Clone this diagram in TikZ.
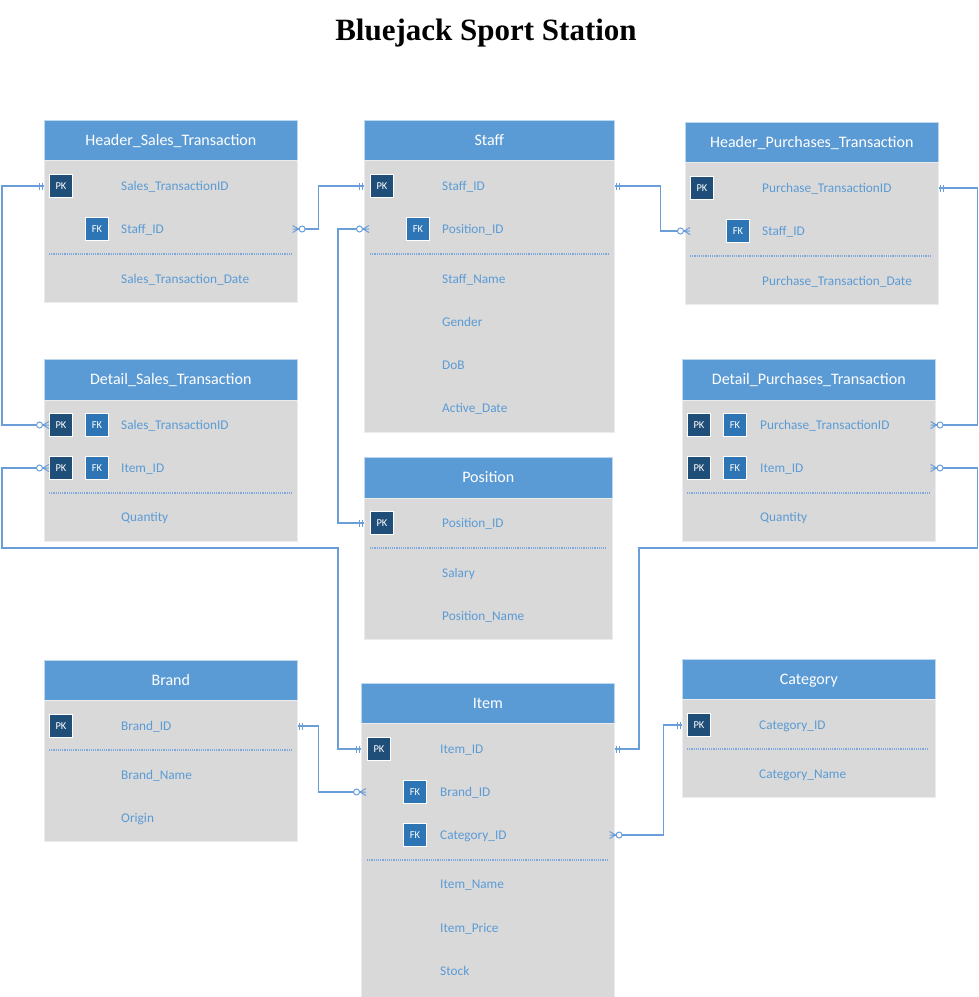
\documentclass[tikz,border=0pt]{standalone}
\usepackage{fontspec}
\newfontfamily\calib{Carlito}
\newfontfamily\titlef{Liberation Serif}
\definecolor{hdrblue}{HTML}{5B9BD5}
\definecolor{bodygray}{HTML}{D9D9D9}
\definecolor{pkblue}{HTML}{1F4E79}
\definecolor{fkblue}{HTML}{2E75B6}
\definecolor{fldblue}{HTML}{5B9BD5}
\definecolor{lineblue}{HTML}{6A9ED8}
\definecolor{sepblue}{HTML}{7FA8DA}
\tikzset{
 hdrbox/.style={fill=hdrblue, draw=white!60!hdrblue, line width=0.6pt, anchor=north west, inner sep=0pt, text=white, font=\calib\fontsize{16}{18}\selectfont, text height=10.3pt, text depth=0pt},
 bodybox/.style={fill=bodygray, draw=white!50!bodygray, line width=0.6pt, anchor=north west, inner sep=0pt},
 badge/.style={draw=white, line width=0.9pt, minimum size=23pt, inner sep=0pt, text=white, font=\calib\fontsize{10.5}{11}\selectfont},
 pkb/.style={badge, fill=pkblue},
 fkb/.style={badge, fill=fkblue},
 fld/.style={anchor=west, inner sep=0pt, text=fldblue, font=\calib\fontsize{13.3}{15}\selectfont, text height=8.5pt, text depth=0pt},
 sepline/.style={draw=sepblue, line width=1.1pt, dash pattern=on 1.2pt off 1pt},
 conn/.style={draw=lineblue, line width=1.3pt},
 one/.pic={\draw[draw=lineblue, line width=1pt] (2,-3.5)--(2,3.5) (5,-3.5)--(5,3.5);},
 zmany/.pic={\draw[draw=lineblue, line width=1pt] (-5,-3.5)--(1,0)--(-5,3.5) (-5,0)--(1,0);
   \draw[draw=lineblue, line width=1pt, fill=white] (4.5,0) circle[radius=3pt];}
}
\begin{document}
\begin{tikzpicture}[x=1pt,y=-1pt]
\useasboundingbox (0,0) rectangle (979,997);
\node[font=\titlef\bfseries\fontsize{31}{34}\selectfont, anchor=base] (title) at (486,40) {Bluejack Sport Station};

% ---------- Header_Sales_Transaction
\node[hdrbox, minimum width=253pt, minimum height=40pt] (hst) at (44,120) {Header\_Sales\_Transaction};
\node[bodybox, minimum width=253pt, minimum height=142pt] (hst-body) at (44,160) {};
\node[pkb] (hst-pk) at (61,186) {PK};
\node[fkb] (hst-fk) at (97,229) {FK};
\node[fld] (hst-f1) at (121,186) {Sales\_TransactionID};
\node[fld] (hst-f2) at (121,229) {Staff\_ID};
\draw[sepline] (49,254) -- (292,254);
\node[fld] (hst-f3) at (121,279) {Sales\_Transaction\_Date};

% ---------- Staff
\node[hdrbox, minimum width=250pt, minimum height=40pt] (st) at (364,120) {Staff};
\node[bodybox, minimum width=250pt, minimum height=272pt] (st-body) at (364,160) {};
\node[pkb] (st-pk) at (382,186) {PK};
\node[fkb] (st-fk) at (418,229) {FK};
\node[fld] (st-f1) at (442,186) {Staff\_ID};
\node[fld] (st-f2) at (442,229) {Position\_ID};
\draw[sepline] (370,254) -- (609,254);
\node[fld] (st-f3) at (442,279) {Staff\_Name};
\node[fld] (st-f4) at (442,322) {Gender};
\node[fld] (st-f5) at (442,365) {DoB};
\node[fld] (st-f6) at (442,408) {Active\_Date};

% ---------- Header_Purchases_Transaction
\node[hdrbox, minimum width=253pt, minimum height=40pt] (hpt) at (685,122) {Header\_Purchases\_Transaction};
\node[bodybox, minimum width=253pt, minimum height=142pt] (hpt-body) at (685,162) {};
\node[pkb] (hpt-pk) at (702,188) {PK};
\node[fkb] (hpt-fk) at (738,231) {FK};
\node[fld] (hpt-f1) at (762,188) {Purchase\_TransactionID};
\node[fld] (hpt-f2) at (762,231) {Staff\_ID};
\draw[sepline] (690,256) -- (932,256);
\node[fld] (hpt-f3) at (762,281) {Purchase\_Transaction\_Date};

% ---------- Detail_Sales_Transaction
\node[hdrbox, minimum width=253pt, minimum height=41pt] (dst) at (44,359) {Detail\_Sales\_Transaction};
\node[bodybox, minimum width=253pt, minimum height=141pt] (dst-body) at (44,400) {};
\node[pkb] (dst-pk1) at (61,425) {PK};
\node[fkb] (dst-fk1) at (97,425) {FK};
\node[pkb] (dst-pk2) at (61,468) {PK};
\node[fkb] (dst-fk2) at (97,468) {FK};
\node[fld] (dst-f1) at (121,425) {Sales\_TransactionID};
\node[fld] (dst-f2) at (121,468) {Item\_ID};
\draw[sepline] (49,493) -- (292,493);
\node[fld] (dst-f3) at (121,517) {Quantity};

% ---------- Detail_Purchases_Transaction
\node[hdrbox, minimum width=253pt, minimum height=41pt] (dpt) at (682,359) {Detail\_Purchases\_Transaction};
\node[bodybox, minimum width=253pt, minimum height=141pt] (dpt-body) at (682,400) {};
\node[pkb] (dpt-pk1) at (699,425) {PK};
\node[fkb] (dpt-fk1) at (735,425) {FK};
\node[pkb] (dpt-pk2) at (699,468) {PK};
\node[fkb] (dpt-fk2) at (735,468) {FK};
\node[fld] (dpt-f1) at (760,425) {Purchase\_TransactionID};
\node[fld] (dpt-f2) at (760,468) {Item\_ID};
\draw[sepline] (687,493) -- (930,493);
\node[fld] (dpt-f3) at (760,517) {Quantity};

% ---------- Position
\node[hdrbox, minimum width=248pt, minimum height=41pt] (pos) at (364,457) {Position};
\node[bodybox, minimum width=248pt, minimum height=141pt] (pos-body) at (364,498) {};
\node[pkb] (pos-pk) at (382,523) {PK};
\node[fld] (pos-f1) at (442,523) {Position\_ID};
\draw[sepline] (370,548) -- (606,548);
\node[fld] (pos-f2) at (442,573) {Salary};
\node[fld] (pos-f3) at (442,616) {Position\_Name};

% ---------- Brand
\node[hdrbox, minimum width=253pt, minimum height=40pt] (br) at (44,660) {Brand};
\node[bodybox, minimum width=253pt, minimum height=141pt] (br-body) at (44,700) {};
\node[pkb] (br-pk) at (61,726) {PK};
\node[fld] (br-f1) at (121,726) {Brand\_ID};
\draw[sepline] (49,750) -- (292,750);
\node[fld] (br-f2) at (121,775) {Brand\_Name};
\node[fld] (br-f3) at (121,818) {Origin};

% ---------- Item
\node[hdrbox, minimum width=253pt, minimum height=40pt] (it) at (361,683) {Item};
\node[bodybox, minimum width=253pt, minimum height=278pt] (it-body) at (361,723) {};
\node[pkb] (it-pk) at (379,749) {PK};
\node[fkb] (it-fk1) at (415,792) {FK};
\node[fkb] (it-fk2) at (415,835) {FK};
\node[fld] (it-f1) at (440,749) {Item\_ID};
\node[fld] (it-f2) at (440,792) {Brand\_ID};
\node[fld] (it-f3) at (440,835) {Category\_ID};
\draw[sepline] (367,860) -- (609,860);
\node[fld] (it-f4) at (440,884) {Item\_Name};
\node[fld] (it-f5) at (440,928) {Item\_Price};
\node[fld] (it-f6) at (440,971) {Stock};

% ---------- Category
\node[hdrbox, minimum width=253pt, minimum height=40pt] (cat) at (682,659) {Category};
\node[bodybox, minimum width=253pt, minimum height=98pt] (cat-body) at (682,699) {};
\node[pkb] (cat-pk) at (699,725) {PK};
\node[fld] (cat-f1) at (759,725) {Category\_ID};
\draw[sepline] (687,749) -- (929,749);
\node[fld] (cat-f2) at (759,774) {Category\_Name};

% ---------- attachment points
\coordinate (hstA) at (hst-body.west |- hst-pk);
\coordinate (hstB) at (hst-body.east |- hst-fk);
\coordinate (stA) at (st-body.west |- st-pk);
\coordinate (stR) at (st-body.east |- st-pk);
\coordinate (stB) at (st-body.west |- st-fk);
\coordinate (hptA) at (hpt-body.east |- hpt-pk);
\coordinate (hptB) at (hpt-body.west |- hpt-fk);
\coordinate (posA) at (pos-body.west |- pos-pk);
\coordinate (dstA) at (dst-body.west |- dst-pk1);
\coordinate (dstB) at (dst-body.west |- dst-pk2);
\coordinate (dptA) at (dpt-body.east |- dpt-pk1);
\coordinate (dptB) at (dpt-body.east |- dpt-pk2);
\coordinate (brA) at (br-body.east |- br-pk);
\coordinate (itA) at (it-body.west |- it-pk);
\coordinate (itR) at (it-body.east |- it-pk);
\coordinate (itB) at (it-body.west |- it-fk1);
\coordinate (itC) at (it-body.east |- it-fk2);
\coordinate (catA) at (cat-body.west |- cat-pk);
\coordinate (wl) at (338,548);
\coordinate (wr) at (639,548);

% ---------- connectors
\draw[conn] (hstA) -- ++(-42,0) |- (dstA);
\draw[conn] (hstB) -- ++(21,0) |- (stA);
\draw[conn] (stR) -- ++(46,0) |- (hptB);
\draw[conn] (stB) -- ++(-26,0) |- (posA);
\draw[conn] (hptA) -- ++(39,0) |- (dptA);
\draw[conn] (dstB) -- ++(-42,0) |- (wl) |- (itA);
\draw[conn] (dptB) -- ++(42,0) |- (wr) |- (itR);
\draw[conn] (brA) -- ++(21,0) |- (itB);
\draw[conn] (itC) -- ++(49,0) |- (catA);

% ---------- cardinality marks
\path (hstA) pic[rotate=180] {one};
\path (dstA) pic[rotate=180] {zmany};
\path (hstB) pic {zmany};
\path (stA) pic[rotate=180] {one};
\path (stR) pic {one};
\path (hptB) pic[rotate=180] {zmany};
\path (stB) pic[rotate=180] {zmany};
\path (posA) pic[rotate=180] {one};
\path (hptA) pic {one};
\path (dptA) pic {zmany};
\path (dstB) pic[rotate=180] {zmany};
\path (itA) pic[rotate=180] {one};
\path (dptB) pic {zmany};
\path (itR) pic {one};
\path (brA) pic {one};
\path (itB) pic[rotate=180] {zmany};
\path (itC) pic {zmany};
\path (catA) pic[rotate=180] {one};
\end{tikzpicture}
\end{document}
